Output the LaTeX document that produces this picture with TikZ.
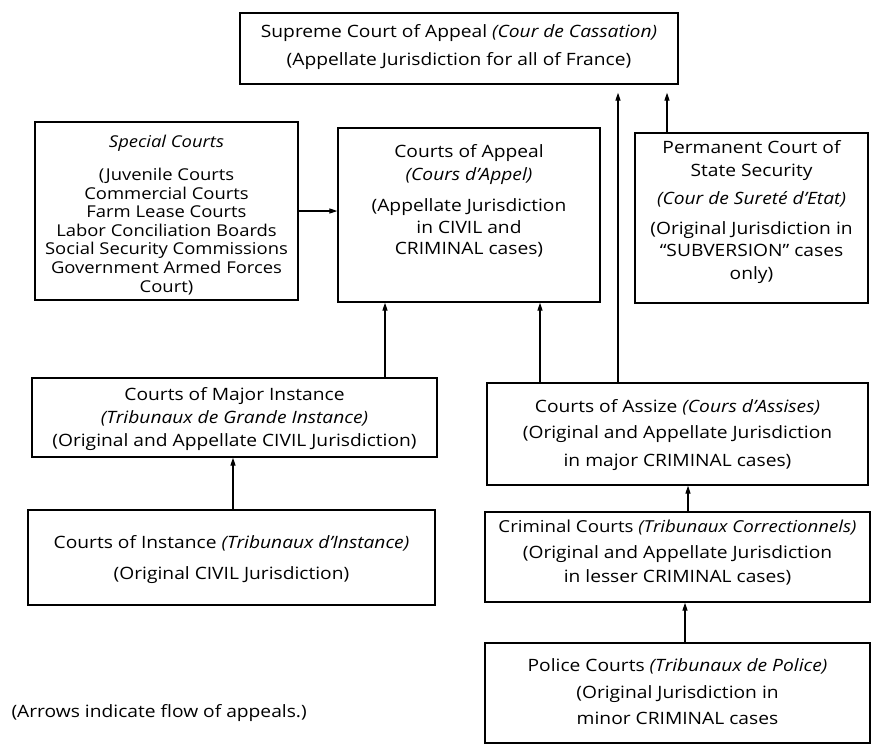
\documentclass[tikz,border=0pt]{standalone}
\usepackage{fontspec}
\setmainfont{Open Sans}[FakeStretch=1.13]
\usetikzlibrary{arrows.meta}
\begin{document}
\begin{tikzpicture}[x=1pt,y=-1pt,
  box/.style={draw, line width=1.3pt, inner sep=0pt},
  txt/.style={inner sep=0pt, align=center, font=\fontsize{17}{21.5}\selectfont},
  arr/.style={-{Triangle[length=8pt,width=5pt]}, line width=1.2pt},
  lbl/.style={font=\fontsize{17}{21}\selectfont}]
\useasboundingbox (0,0) rectangle (872,745);
\fill[white] (0,0) rectangle (872,745);

% boxes
\node[box, minimum width=438pt, minimum height=71pt] (sup) at (459,48.5) {};
\node[box, minimum width=263pt, minimum height=178pt] (special) at (166.5,211) {};
\node[box, minimum width=262pt, minimum height=174pt] (appeal) at (469,215) {};
\node[box, minimum width=233pt, minimum height=170pt] (perm) at (751.5,218) {};
\node[box, minimum width=405pt, minimum height=79pt] (major) at (234.5,417.5) {};
\node[box, minimum width=407pt, minimum height=95pt] (instance) at (231.5,557.5) {};
\node[box, minimum width=381pt, minimum height=102pt] (assize) at (677.5,434) {};
\node[box, minimum width=385pt, minimum height=90pt] (criminal) at (677.5,557) {};
\node[box, minimum width=385pt, minimum height=100pt] (police) at (677.5,693) {};

% texts
\node[txt] (supT) at (459,47)
  {Supreme Court of Appeal \textit{(Cour de Cassation)}\\[6pt]
   (Appellate Jurisdiction for all of France)};

\node[txt, font=\fontsize{16.3}{18.6}\selectfont] (specialT) at (166.5,215)
  {\textit{Special Courts}\\[14pt]
   (Juvenile Courts\\ Commercial Courts\\ Farm Lease Courts\\
   Labor Conciliation Boards\\ Social Security Commissions\\
   Government Armed Forces\\ Court)};

\node[txt] (appealT) at (469,201)
  {Courts of Appeal\\[1.5pt] \textit{(Cours d'Appel)}\\[9.5pt]
   (Appellate Jurisdiction\\ in CIVIL and\\ CRIMINAL cases)};

\node[txt, font=\fontsize{17}{22.3}\selectfont] (permT) at (751.5,212)
  {Permanent Court of\\ State Security\\[6pt]
   \textit{(Cour de Sureté d'Etat)}\\[8pt]
   (Original Jurisdiction in\\ ``SUBVERSION'' cases\\ only)};

\node[txt, font=\fontsize{17}{23}\selectfont] (majorT) at (234.5,419)
  {Courts of Major Instance\\ \textit{(Tribunaux de Grande Instance)}\\
   (Original and Appellate CIVIL Jurisdiction)};

\node[txt] (instanceT) at (231.5,559.5)
  {Courts of Instance \textit{(Tribunaux d'Instance)}\\[9.5pt]
   (Original CIVIL Jurisdiction)};

\node[txt] (assizeT) at (677.5,435)
  {Courts of Assize \textit{(Cours d'Assises)}\\[4.5pt]
   (Original and Appellate Jurisdiction\\[6.5pt] in major CRIMINAL cases)};

\node[txt] (criminalT) at (677.5,553)
  {{\fontsize{16.5}{21.5}\selectfont Criminal Courts \textit{(Tribunaux Correctionnels)}}\\[4.5pt]
   (Original and Appellate Jurisdiction\\[2.5pt] in lesser CRIMINAL cases)};

\node[txt] (policeT) at (677.5,691.5)
  {Police Courts \textit{(Tribunaux de Police)}\\[5.5pt]
   (Original Jurisdiction in\\[4.5pt] minor CRIMINAL cases};

\node[lbl, anchor=west] (note) at (8,713) {(Arrows indicate flow of appeals.)};

\coordinate (xa) at (385,0);
\coordinate (xb) at (540,0);
\coordinate (xc) at (618,0);
\coordinate (xd) at (667,0);
\coordinate (xe) at (233,0);
\coordinate (xf) at (688,0);
\coordinate (xg) at (685,0);

\draw[arr] (special.east) -- (special.east -| appeal.west);
\draw[arr] (major.north -| xa) -- (appeal.south -| xa);
\draw[arr] (assize.north -| xb) -- (appeal.south -| xb);
\draw[arr, shorten >=8pt] (assize.north -| xc) -- (sup.south -| xc);
\draw[arr, shorten >=8pt] (perm.north -| xd) -- (sup.south -| xd);
\draw[arr] (instance.north -| xe) -- (major.south -| xe);
\draw[arr] (criminal.north -| xf) -- (assize.south -| xf);
\draw[arr] (police.north -| xg) -- (criminal.south -| xg);
\end{tikzpicture}
\end{document}
